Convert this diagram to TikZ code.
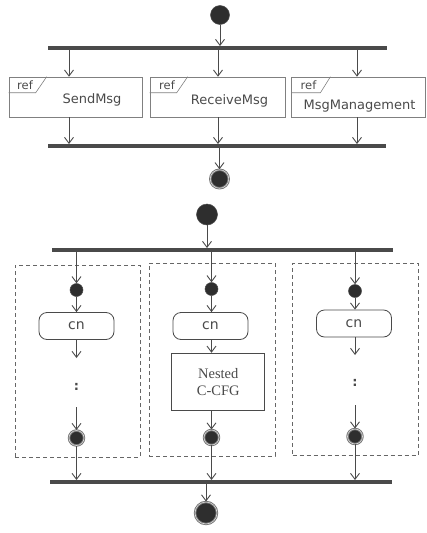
\documentclass[tikz,border=0pt]{standalone}
\usepackage{fontspec}
\setmainfont{DejaVu Sans}
\newfontfamily\nestfont{Liberation Serif}
\usetikzlibrary{arrows.meta}
\definecolor{inkgray}{HTML}{4A4A4A}
\definecolor{framegray}{HTML}{808080}
\definecolor{dotfill}{HTML}{2E2E2E}
\tikzset{
  arr/.style={draw=inkgray, line width=0.9pt, -{Straight Barb[length=6pt,width=9pt]}},
  forkbar/.style={fill=inkgray, inner sep=0pt, minimum height=3.5pt},
  initdot/.style={circle, fill=dotfill, draw=inkgray, line width=0.5pt, inner sep=0pt, minimum size=#1},
  finaldot/.style={circle, fill=dotfill, draw=black!55, double=white!85!black, double distance=0.6pt, line width=0.9pt, inner sep=0pt, minimum size=#1},
  refframe/.style={draw=framegray, line width=0.6pt, minimum height=40pt},
  reftab/.style={draw=framegray, line width=0.6pt},
  reftext/.style={text=inkgray, font=\fontsize{13}{15}\selectfont, anchor=base},
  reflabel/.style={text=inkgray, font=\fontsize{11.5}{13}\selectfont, anchor=base west, inner sep=0pt},
  lane/.style={draw=black!60, line width=0.7pt, dash pattern=on 4pt off 3pt},
  cnbox/.style={draw=inkgray, line width=0.8pt, rounded corners=8pt, minimum width=75pt, minimum height=27pt, text=inkgray, font=\fontsize{14}{16}\selectfont},
  nestbox/.style={draw=inkgray, line width=0.8pt, minimum width=93pt, minimum height=57pt, align=center, text=inkgray, font=\nestfont\fontsize{14.5}{16.7}\selectfont},
  ellip/.style={text=inkgray, font=\bfseries\fontsize{13}{15}\selectfont, inner sep=0pt}
}
\begin{document}
\begin{tikzpicture}[x=1pt,y=-1pt]
  \useasboundingbox (0,0) rectangle (426,533);
  \node[initdot=19pt] (init1) at (220,15) {};
  \node[forkbar, minimum width=339pt] (fork1) at (217.5,48) {};
  \node[refframe, minimum width=133pt] (send) at (75.5,97) {};
  \node[refframe, minimum width=135pt] (recv) at (217.5,97) {};
  \node[refframe, minimum width=133.5pt] (mgmt) at (358.5,97) {};
  \node[reftext] (sendtxt) at (92,103) {SendMsg};
  \node[reftext] (recvtxt) at (229.5,104) {ReceiveMsg};
  \node[reftext] (mgmttxt) at (359.5,109) {MsgManagement};
  \node[reflabel] (sendref) at (17,89) {ref};
  \node[reflabel] (recvref) at (159,89) {ref};
  \node[reflabel] (mgmtref) at (300.5,89) {ref};
  \node[forkbar, minimum width=338pt] (join1) at (217,146) {};
  \node[finaldot=18.5pt] (final1) at (219.5,179) {};
  \coordinate (colA) at (69,0);
  \coordinate (colB) at (218,0);
  \coordinate (colC) at (357,0);
  \begin{scope}[reftab]
    \draw ([yshift=-16pt]send.north west) -- ++(27,0) [rounded corners=5pt] -- ++(11,-16);
    \draw ([yshift=-16pt]recv.north west) -- ++(27,0) [rounded corners=5pt] -- ++(11,-16);
    \draw ([yshift=-16pt]mgmt.north west) -- ++(29,0) [rounded corners=5pt] -- ++(10,-16);
  \end{scope}
  \begin{scope}[arr]
    \draw (init1) -- (init1 |- fork1.north);
    \draw (colA |- fork1.south) -- (colA |- send.north);
    \draw (colB |- fork1.south) -- (colB |- recv.north);
    \draw (colC |- fork1.south) -- (colC |- mgmt.north);
    \draw (colA |- send.south) -- (colA |- join1.north);
    \draw (colB |- recv.south) -- (colB |- join1.north);
    \draw (colC |- mgmt.south) -- (colC |- join1.north);
    \draw (final1 |- join1.south) -- (final1);
  \end{scope}
  \node[initdot=21pt] (init2) at (207,214.5) {};
  \node[forkbar, minimum width=341pt] (fork2) at (222.5,250) {};
  \node[lane, minimum width=125pt, minimum height=192pt] (laneA) at (77.5,361) {};
  \node[lane, minimum width=126pt, minimum height=193pt] (laneB) at (212,359.5) {};
  \node[lane, minimum width=125.5pt, minimum height=192pt] (laneC) at (355.25,359) {};
  \node[initdot=13pt] (initA) at (76.5,290) {};
  \node[initdot=13pt] (initB) at (211.5,289) {};
  \node[initdot=13pt] (initC) at (355,291) {};
  \node[cnbox] (cnA) at (76.5,326) {cn};
  \node[cnbox] (cnB) at (210.5,326) {cn};
  \node[cnbox] (cnC) at (354,323.5) {cn};
  \coordinate (tipA) at (76.5,358);
  \node[ellip] (dotsA) at (76.5,387) {:};
  \coordinate (tailA) at (76.5,407);
  \node[nestbox] (nest) at (218.3,381.7) {Nested\\C-CFG};
  \coordinate (tipC) at (355,355);
  \node[ellip] (dotsC) at (355,383) {:};
  \coordinate (tailC) at (355,405);
  \node[finaldot=15pt] (finalA) at (76.5,438) {};
  \node[finaldot=15pt] (finalB) at (211.5,437.5) {};
  \node[finaldot=15pt] (finalC) at (355,436.5) {};
  \node[forkbar, minimum width=342pt] (join2) at (221,482) {};
  \node[finaldot=22pt] (final2) at (206,513) {};
  \begin{scope}[arr]
    \draw (init2) -- (init2 |- fork2.north);
    \draw (initA |- fork2.south) -- (initA);
    \draw (initB |- fork2.south) -- (initB);
    \draw (initC |- fork2.south) -- (initC);
    \draw (initA) -- (initA |- cnA.north);
    \draw (initB) -- (initB |- cnB.north);
    \draw (initC) -- (initC |- cnC.north);
    \draw (initA |- cnA.south) -- (tipA);
    \draw (initB |- cnB.south) -- (initB |- nest.north);
    \draw (initC |- cnC.south) -- (tipC);
    \draw (tailA) -- (finalA);
    \draw (initB |- nest.south) -- (finalB);
    \draw (tailC) -- (finalC);
    \draw (finalA) -- (finalA |- join2.north);
    \draw (finalB) -- (finalB |- join2.north);
    \draw (finalC) -- (finalC |- join2.north);
    \draw (final2 |- join2.south) -- (final2);
  \end{scope}
\end{tikzpicture}
\end{document}
